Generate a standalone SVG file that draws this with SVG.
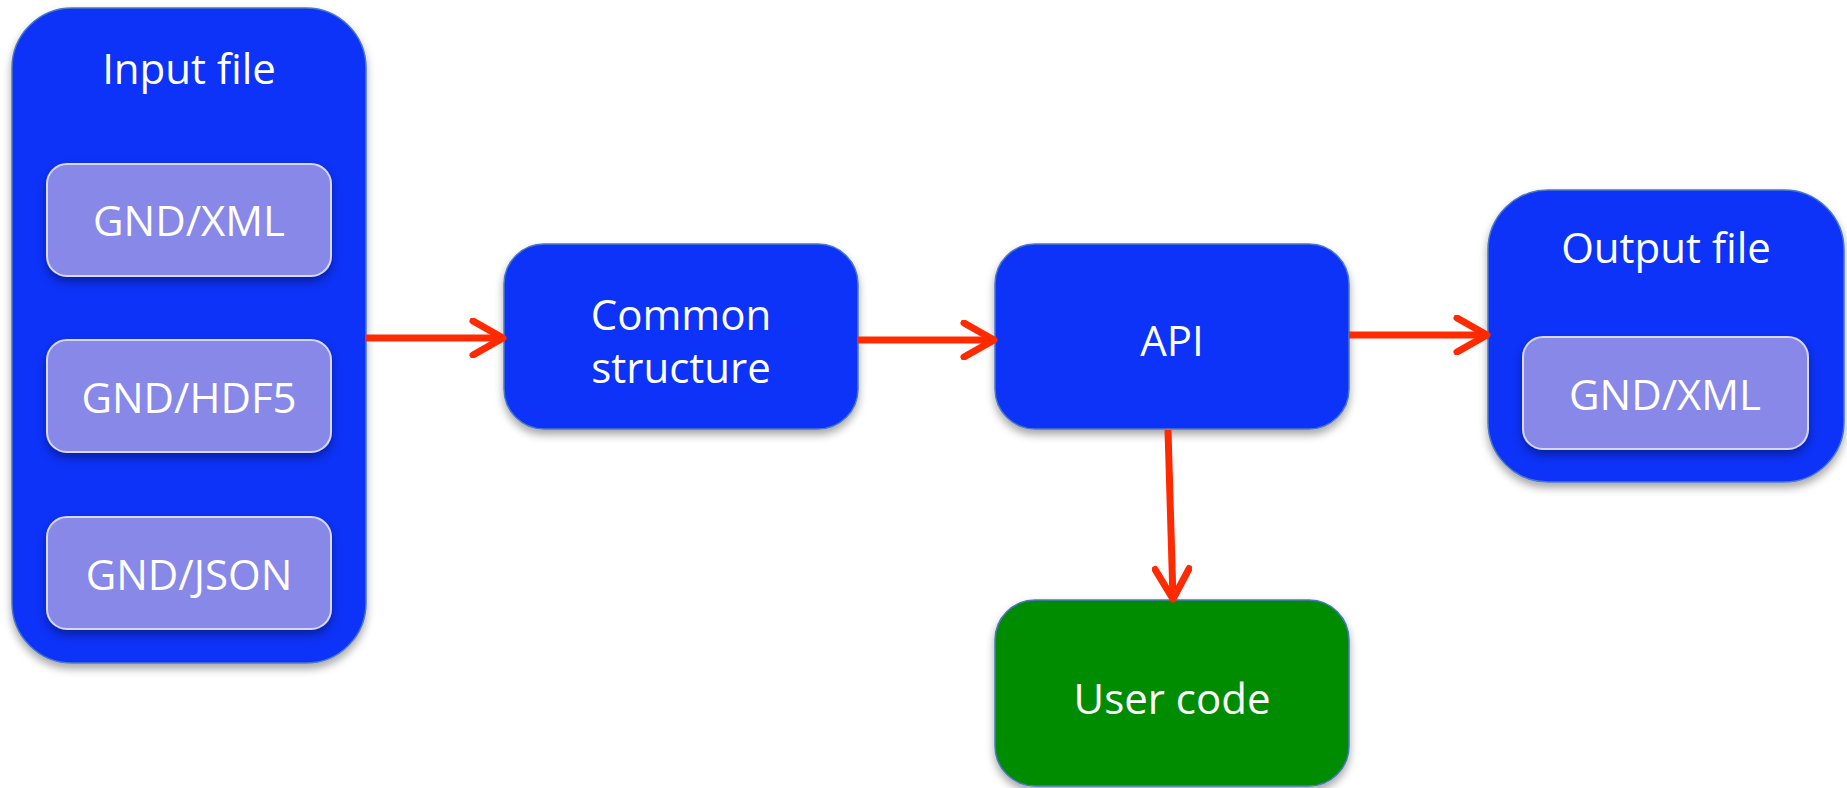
<svg xmlns="http://www.w3.org/2000/svg" width="1847" height="788" viewBox="0 0 1847 788">
  <defs>
    <filter id="shadow" x="-10%" y="-10%" width="120%" height="130%">
      <feDropShadow dx="0" dy="5" stdDeviation="4" flood-color="#000" flood-opacity="0.35"/>
    </filter>
    <marker id="chevron" viewBox="0 0 40 40" refX="36" refY="20" markerWidth="40" markerHeight="40" markerUnits="userSpaceOnUse" orient="auto">
      <polyline points="6,3 36,20 6,37" fill="none" stroke="#ff2a00" stroke-width="7" stroke-linecap="round" stroke-linejoin="round"/>
    </marker>
  </defs>
  <style>
    .outer { fill: #0f32f8; stroke: #4a78c4; stroke-width: 1.5; filter: url(#shadow); }
    .inner { fill: #8888e8; stroke: #d6d8f4; stroke-width: 2; filter: url(#shadow); }
    .green { fill: #008c00; stroke: #4a78c4; stroke-width: 1.5; filter: url(#shadow); }
    .label { font-family: "Open Sans", "Noto Sans", sans-serif; font-size: 42px; fill: #ffffff; text-anchor: middle; }
    .link { fill: none; stroke: #ff2a00; stroke-width: 7; marker-end: url(#chevron); }
  </style>
  <rect width="1847" height="788" fill="#ffffff"/>

  <g id="input-file">
    <rect class="outer" x="12" y="8" width="354" height="655" rx="60" ry="60"/>
    <text class="label" x="189" y="84">Input file</text>
  </g>
  <g id="input-xml">
    <rect class="inner" x="47" y="164" width="284" height="112" rx="20" ry="20"/>
    <text class="label" x="189" y="236">GND/XML</text>
  </g>
  <g id="input-hdf5">
    <rect class="inner" x="47" y="340" width="284" height="112" rx="20" ry="20"/>
    <text class="label" x="189" y="413">GND/HDF5</text>
  </g>
  <g id="input-json">
    <rect class="inner" x="47" y="517" width="284" height="112" rx="20" ry="20"/>
    <text class="label" x="189" y="590">GND/JSON</text>
  </g>

  <g id="common-structure">
    <rect class="outer" x="504" y="244" width="354" height="185" rx="40" ry="40"/>
    <text class="label" x="681" y="330">Common</text>
    <text class="label" x="681" y="383">structure</text>
  </g>

  <g id="api">
    <rect class="outer" x="995" y="244" width="354" height="185" rx="40" ry="40"/>
    <text class="label" x="1172" y="356">API</text>
  </g>

  <g id="output-file">
    <rect class="outer" x="1488" y="190" width="356" height="292" rx="60" ry="60"/>
    <text class="label" x="1666" y="263">Output file</text>
  </g>
  <g id="output-xml">
    <rect class="inner" x="1523" y="337" width="285" height="112" rx="20" ry="20"/>
    <text class="label" x="1665" y="410">GND/XML</text>
  </g>

  <g id="user-code">
    <rect class="green" x="995" y="600" width="354" height="186" rx="40" ry="40"/>
    <text class="label" x="1172" y="714">User code</text>
  </g>

  <g id="connectors">
    <line class="link" x1="366" y1="338" x2="503" y2="338"/>
    <line class="link" x1="858" y1="340" x2="994" y2="340"/>
    <line class="link" x1="1349" y1="335" x2="1487" y2="335"/>
    <line class="link" x1="1168" y1="430" x2="1173" y2="599"/>
  </g>
</svg>
